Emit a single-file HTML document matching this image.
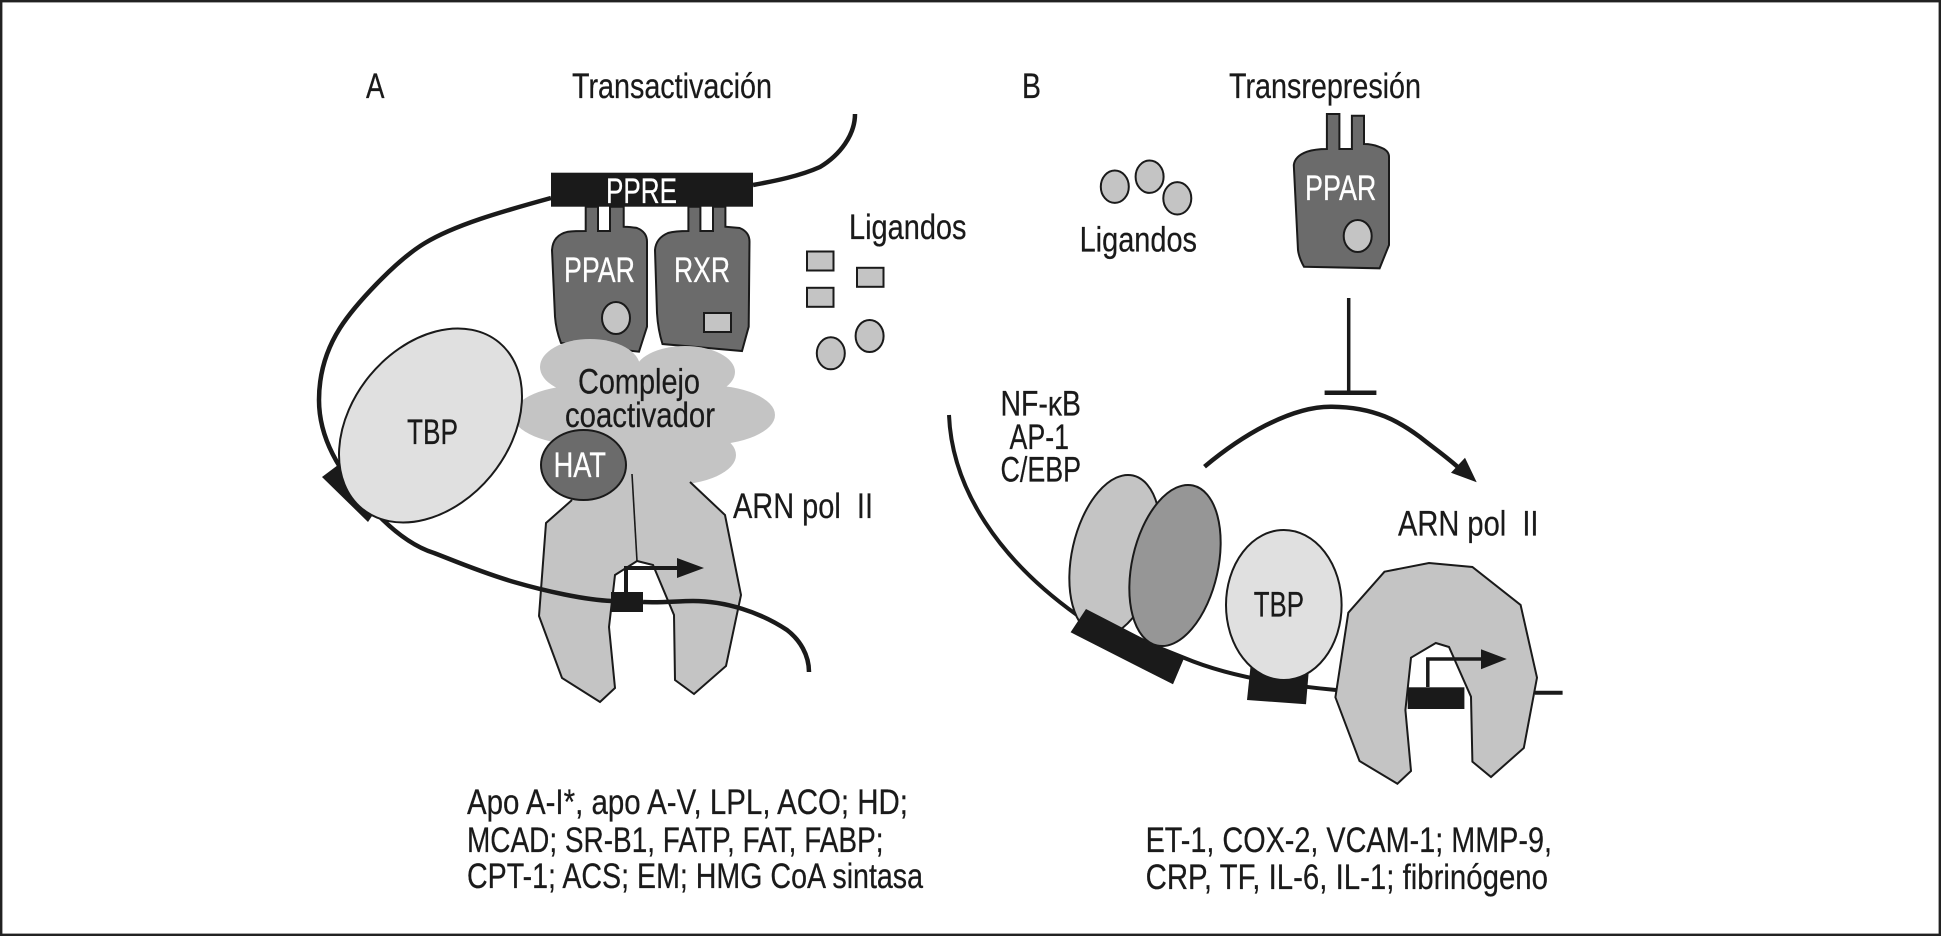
<!DOCTYPE html>
<html>
<head>
<meta charset="utf-8">
<style>
html,body{margin:0;padding:0;background:#fff;}
svg{display:block;}
text{font-family:"Liberation Sans",sans-serif;font-size:35px;fill:#1a1a1a;stroke:#1a1a1a;stroke-width:.25px;}
text.w{fill:#fff;stroke:#fff;}
</style>
</head>
<body>
<svg width="1941" height="936" viewBox="0 0 1941 936" xmlns="http://www.w3.org/2000/svg">
<rect width="1941" height="936" fill="#fff"/>
<rect x="1.2" y="1.2" width="1938.6" height="933.6" fill="none" stroke="#222" stroke-width="2.4"/>

<!-- Panel A -->
<path d="M855 114 C855 135 840 155 820 167 C800 176 775 181 753 185" fill="none" stroke="#1a1a1a" stroke-width="4.5"/>

<!-- PPAR / RXR A -->
<path d="M585.7 206.7 H598 V231 H610 V206.7 H623.7 V226.7 Q632 227 637 228 Q647 232 647 241.7 V326.7 L639 351.7 L561 343 Q556 330 555 316.7 L552 250 Q553 235 568 231.7 Q575 231 585.7 231 Z" fill="#6b6b6b" stroke="#1a1a1a" stroke-width="2"/>
<path d="M688.4 206.7 H700.4 V231 H713 V206.7 H725.4 V226.7 L739.7 228 Q749.5 232 749.5 241.7 L748.7 326.7 L742 351 L662.5 344 Q658 330 657 313 L655 250 Q656 238 668 233 Q675 231 688.4 231 Z" fill="#6b6b6b" stroke="#1a1a1a" stroke-width="2"/>
<ellipse cx="616" cy="318" rx="14" ry="16" fill="#c4c4c4" stroke="#1a1a1a" stroke-width="2"/>
<rect x="704" y="313" width="27" height="19" fill="#c4c4c4" stroke="#1a1a1a" stroke-width="2"/>

<!-- PPRE -->
<rect x="551" y="172.7" width="202" height="34" fill="#1a1a1a"/>
<text class="w" x="606" y="203" textLength="71" lengthAdjust="spacingAndGlyphs">PPRE</text>

<!-- Ligands A -->
<rect x="807" y="251.5" width="26.5" height="19" fill="#c4c4c4" stroke="#1a1a1a" stroke-width="2"/>
<rect x="807" y="287.8" width="26.5" height="19" fill="#c4c4c4" stroke="#1a1a1a" stroke-width="2"/>
<rect x="857" y="267.8" width="26.5" height="19" fill="#c4c4c4" stroke="#1a1a1a" stroke-width="2"/>
<ellipse cx="830.8" cy="353.3" rx="14" ry="16" fill="#c4c4c4" stroke="#1a1a1a" stroke-width="2"/>
<ellipse cx="869.6" cy="336" rx="14" ry="16" fill="#c4c4c4" stroke="#1a1a1a" stroke-width="2"/>

<!-- Pol II A + cloud -->
<polygon points="572,500 546,523 539,616 562,678 600,702 615,688 609,627 615,575 637,561 653,565 674,615 675,680 694,694 726,666 741,595 725,515 690,482 600,440" fill="#c4c4c4"/>
<g fill="#c4c4c4">
<ellipse cx="590" cy="367" rx="50" ry="28"/>
<ellipse cx="685" cy="372" rx="50" ry="26"/>
<ellipse cx="585" cy="415" rx="72" ry="30"/>
<ellipse cx="705" cy="415" rx="70" ry="30"/>
<ellipse cx="670" cy="455" rx="66" ry="30"/>
<rect x="570" y="370" width="130" height="100"/>
</g>
<polyline points="572,500 546,523 539,616 562,678 600,702 615,688 609,627 615,575 637,561 653,565 674,615 675,680 694,694 726,666 741,595 725,515 690,482" fill="none" stroke="#1a1a1a" stroke-width="2"/>
<line x1="632" y1="474" x2="637" y2="561" stroke="#1a1a1a" stroke-width="1.6"/>

<ellipse cx="583.5" cy="465" rx="42.5" ry="35" fill="#6b6b6b" stroke="#1a1a1a" stroke-width="2"/>
<text class="w" x="553.6" y="477" textLength="52.4" lengthAdjust="spacingAndGlyphs">HAT</text>

<!-- DNA A, drawn over Pol II and under TBP -->
<path d="M551 198 C500 212 455 225 425 243 C395 261 354 306 340 328 C326 350 319 375 319 400 C319 435 335 470 380 517 C398 535 415 547 434 553 C450 559 480 572 514 582 C545 591 585 600 612 601" fill="none" stroke="#1a1a1a" stroke-width="4.5"/>
<path d="M643 602 C660 603 678 601 693 601 C725 601 760 612 787 630 C800 640 809 655 809 672" fill="none" stroke="#1a1a1a" stroke-width="4.5"/>
<polygon points="322,477 338,465 374,513 368,522" fill="#1a1a1a"/>
<ellipse cx="430.5" cy="425.5" rx="107.7" ry="78.6" transform="rotate(-50.5 430.5 425.5)" fill="#e0e0e0" stroke="#1a1a1a" stroke-width="2"/>

<rect x="611" y="592" width="32" height="20" fill="#1a1a1a"/>
<path d="M626 593 V568 H680" fill="none" stroke="#1a1a1a" stroke-width="4"/>
<polygon points="677,558 704,568 677,578" fill="#1a1a1a"/>

<!-- Labels A -->
<text x="366" y="98" textLength="18.5" lengthAdjust="spacingAndGlyphs">A</text>
<text x="572" y="98" textLength="200" lengthAdjust="spacingAndGlyphs">Transactivación</text>
<text class="w" x="564" y="282" textLength="71" lengthAdjust="spacingAndGlyphs">PPAR</text>
<text class="w" x="674" y="282" textLength="56" lengthAdjust="spacingAndGlyphs">RXR</text>
<text x="849" y="239" textLength="117.5" lengthAdjust="spacingAndGlyphs">Ligandos</text>
<text x="407" y="444" textLength="51" lengthAdjust="spacingAndGlyphs">TBP</text>
<text x="578" y="393.5" textLength="122" lengthAdjust="spacingAndGlyphs">Complejo</text>
<text x="565" y="427" textLength="150" lengthAdjust="spacingAndGlyphs">coactivador</text>
<text x="733" y="518" textLength="140" lengthAdjust="spacingAndGlyphs" xml:space="preserve">ARN pol  II</text>
<text x="467" y="814" textLength="441" lengthAdjust="spacingAndGlyphs">Apo A-I*, apo A-V, LPL, ACO; HD;</text>
<text x="467" y="852" textLength="416.5" lengthAdjust="spacingAndGlyphs">MCAD; SR-B1, FATP, FAT, FABP;</text>
<text x="467" y="888" textLength="456" lengthAdjust="spacingAndGlyphs">CPT-1; ACS; EM; HMG CoA sintasa</text>

<!-- Panel B -->
<text x="1022" y="98" textLength="19" lengthAdjust="spacingAndGlyphs">B</text>
<text x="1229" y="98" textLength="192" lengthAdjust="spacingAndGlyphs">Transrepresión</text>

<path d="M1326.9 114 H1339.4 V149 H1351.9 V115.7 H1364 V144 Q1372 144 1378.7 146.7 Q1389 150 1389 156.7 V245 L1379.6 268.3 L1304 266.7 Q1299 258 1298 250 L1293.8 165 Q1295 156 1307 151.7 Q1315 149 1326.9 149 Z" fill="#6b6b6b" stroke="#1a1a1a" stroke-width="2"/>
<text class="w" x="1305" y="200" textLength="71.4" lengthAdjust="spacingAndGlyphs">PPAR</text>
<ellipse cx="1357.7" cy="236" rx="14" ry="16" fill="#c4c4c4" stroke="#1a1a1a" stroke-width="2"/>

<ellipse cx="1114.8" cy="186.7" rx="14" ry="16.2" fill="#c4c4c4" stroke="#1a1a1a" stroke-width="2"/>
<ellipse cx="1149.6" cy="176.7" rx="14" ry="16.2" fill="#c4c4c4" stroke="#1a1a1a" stroke-width="2"/>
<ellipse cx="1177.3" cy="198.3" rx="14" ry="16.2" fill="#c4c4c4" stroke="#1a1a1a" stroke-width="2"/>
<text x="1079.6" y="251.7" textLength="117.4" lengthAdjust="spacingAndGlyphs">Ligandos</text>

<line x1="1348.7" y1="298" x2="1348.7" y2="392" stroke="#1a1a1a" stroke-width="3.5"/>
<line x1="1324.6" y1="392.7" x2="1376.4" y2="392.7" stroke="#1a1a1a" stroke-width="4.5"/>

<path d="M1204.5 466.7 C1240 437 1290 406 1332 406.7 C1375 407 1400 422 1420 437 C1435 449 1447 457 1460 469" fill="none" stroke="#1a1a1a" stroke-width="4.5"/>
<polygon points="1465,457.7 1451,472.7 1476.7,482.3" fill="#1a1a1a"/>

<text x="1000.5" y="415.7" textLength="80.5" lengthAdjust="spacingAndGlyphs">NF-κB</text>
<text x="1009.5" y="449" textLength="59.5" lengthAdjust="spacingAndGlyphs">AP-1</text>
<text x="1000.5" y="481.7" textLength="80.5" lengthAdjust="spacingAndGlyphs">C/EBP</text>

<path d="M949 415 C952 490 1000 560 1077 615 L1184.5 658 C1225 675 1280 685 1336 690" fill="none" stroke="#1a1a1a" stroke-width="4"/>

<ellipse cx="1115" cy="555.5" rx="43" ry="82" transform="rotate(12.7 1115 555.5)" fill="#c4c4c4" stroke="#1a1a1a" stroke-width="2"/>
<ellipse cx="1175" cy="565.5" rx="43" ry="82" transform="rotate(12.7 1175 565.5)" fill="#969696" stroke="#1a1a1a" stroke-width="2"/>
<polygon points="1086,609 1070.6,632.3 1173,684.3 1183.6,659.3" fill="#1a1a1a"/>

<polygon points="1250.5,666.7 1247,700 1306,704.3 1308.6,673" fill="#1a1a1a"/>
<ellipse cx="1283.8" cy="605" rx="57.8" ry="75" fill="#e0e0e0" stroke="#1a1a1a" stroke-width="2"/>
<text x="1253.7" y="616.7" textLength="50.3" lengthAdjust="spacingAndGlyphs">TBP</text>

<text x="1398" y="535.7" textLength="140.5" lengthAdjust="spacingAndGlyphs" xml:space="preserve">ARN pol  II</text>

<line x1="1535" y1="692.7" x2="1562.6" y2="692.7" stroke="#1a1a1a" stroke-width="4"/>
<polygon points="1384.5,571.7 1429,563 1472.4,567 1520.6,605 1537,677.7 1523.8,748 1491,777 1472.4,761.7 1471,696.7 1449,647 1435.8,643 1411,657.7 1405.4,710 1411,771 1397.4,783.7 1359.5,761 1335.4,697.3 1348.3,612.7" fill="#c4c4c4" stroke="#1a1a1a" stroke-width="2"/>
<rect x="1407.7" y="687.3" width="56.7" height="21.7" fill="#1a1a1a"/>
<path d="M1427.8 687 V659 H1482" fill="none" stroke="#1a1a1a" stroke-width="3.5"/>
<polygon points="1481,649.3 1506.8,659 1481,669.3" fill="#1a1a1a"/>

<text x="1145.6" y="852" textLength="406.4" lengthAdjust="spacingAndGlyphs">ET-1, COX-2, VCAM-1; MMP-9,</text>
<text x="1145.6" y="889" textLength="402.4" lengthAdjust="spacingAndGlyphs">CRP, TF, IL-6, IL-1; fibrinógeno</text>
</svg>
</body>
</html>
